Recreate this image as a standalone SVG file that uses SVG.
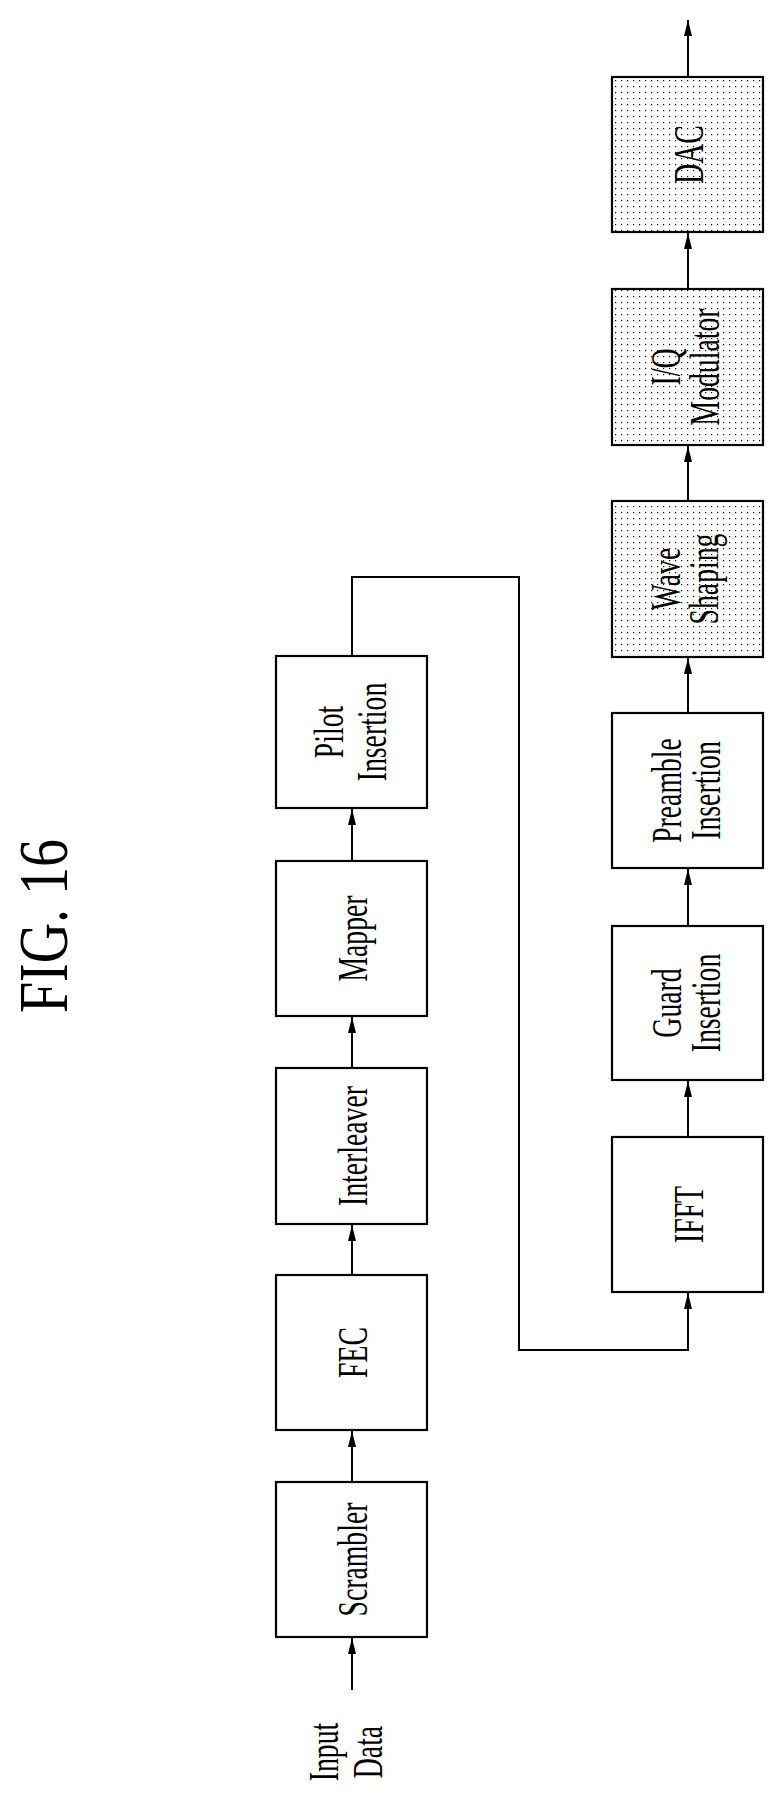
<svg xmlns="http://www.w3.org/2000/svg" width="783" height="1795" viewBox="0 0 783 1795">
<style>
.box{fill:#fff;stroke:#000;stroke-width:2.2}
.dot{fill:url(#dots);stroke:#000;stroke-width:2.2}
.lbl{font-family:"Liberation Serif","Times New Roman",serif;font-size:42px;fill:#000;text-anchor:middle}
.ln{fill:none;stroke:#000;stroke-width:2}
</style>
<defs>
<pattern id="dots" width="6" height="6" patternUnits="userSpaceOnUse" x="612" y="77">
<rect width="6" height="6" fill="#fff"/>
<rect x="3" y="3" width="1.2" height="1.2" fill="#000"/>
</pattern>
<marker id="ah" markerWidth="16" markerHeight="10" refX="16" refY="5" orient="auto" markerUnits="userSpaceOnUse">
<path d="M0,1 L16,5 L0,9 Z" fill="#000"/>
</marker>
</defs>
<rect width="783" height="1795" fill="#fff"/>
<g id="title"><text transform="translate(67,926) rotate(-90) scale(0.8,1)" style="font-family:'Liberation Serif',serif;font-size:70px;text-anchor:middle">FIG. 16</text></g>
<g id="input"><g transform="translate(0,1752) rotate(-90) scale(0.66,1)"><text class="lbl" x="0" y="338">Input</text><text class="lbl" x="0" y="382">Data</text></g></g>
<g id="scrambler"><rect class="box" x="276" y="1482" width="151" height="155"/><text class="lbl" transform="translate(351.5,1559.5) rotate(-90) scale(0.66,1)" y="15">Scrambler</text></g>
<g id="fec"><rect class="box" x="276" y="1275" width="151" height="155"/><text class="lbl" transform="translate(351.5,1352.5) rotate(-90) scale(0.66,1)" y="15">FEC</text></g>
<g id="interleaver"><rect class="box" x="276" y="1068" width="151" height="156"/><text class="lbl" transform="translate(351.5,1146) rotate(-90) scale(0.66,1)" y="15">Interleaver</text></g>
<g id="mapper"><rect class="box" x="276" y="861" width="151" height="155"/><text class="lbl" transform="translate(351.5,938.5) rotate(-90) scale(0.66,1)" y="15">Mapper</text></g>
<g id="pilot"><rect class="box" x="276" y="656" width="151" height="152"/><g transform="translate(351.5,732) rotate(-90) scale(0.66,1)"><text class="lbl" y="-9">Pilot</text><text class="lbl" y="34">Insertion</text></g></g>
<g id="ifft"><rect class="box" x="612" y="1137" width="151" height="155"/><text class="lbl" transform="translate(687.5,1214.5) rotate(-90) scale(0.66,1)" y="15">IFFT</text></g>
<g id="guard"><rect class="box" x="612" y="926" width="151" height="154"/><g transform="translate(687.5,1003) rotate(-90) scale(0.66,1)"><text class="lbl" y="-7">Guard</text><text class="lbl" y="32">Insertion</text></g></g>
<g id="preamble"><rect class="box" x="612" y="713" width="151" height="155"/><g transform="translate(687.5,790.5) rotate(-90) scale(0.66,1)"><text class="lbl" y="-7">Preamble</text><text class="lbl" y="32">Insertion</text></g></g>
<g id="wave"><rect class="dot" x="612" y="501" width="151" height="156"/><g transform="translate(687.5,579) rotate(-90) scale(0.66,1)"><text class="lbl" y="-8">Wave</text><text class="lbl" y="30">Shaping</text></g></g>
<g id="iq"><rect class="dot" x="612" y="289" width="151" height="156"/><g transform="translate(687.5,367) rotate(-90) scale(0.66,1)"><text class="lbl" y="-8">I/Q</text><text class="lbl" y="31">Modulator</text></g></g>
<g id="dac"><rect class="dot" x="612" y="77" width="151" height="155"/><text class="lbl" transform="translate(687.5,154.5) rotate(-90) scale(0.66,1)" y="15">DAC</text></g>
<g id="connectors">
<line class="ln" x1="352" y1="1690" x2="352" y2="1638" marker-end="url(#ah)"/>
<line class="ln" x1="352" y1="1482" x2="352" y2="1431" marker-end="url(#ah)"/>
<line class="ln" x1="352" y1="1275" x2="352" y2="1225" marker-end="url(#ah)"/>
<line class="ln" x1="352" y1="1068" x2="352" y2="1017" marker-end="url(#ah)"/>
<line class="ln" x1="352" y1="861" x2="352" y2="809" marker-end="url(#ah)"/>
<polyline class="ln" points="352,656 352,577 519,577 519,1350 688,1350 688,1293" marker-end="url(#ah)"/>
<line class="ln" x1="688" y1="1137" x2="688" y2="1081" marker-end="url(#ah)"/>
<line class="ln" x1="688" y1="926" x2="688" y2="869" marker-end="url(#ah)"/>
<line class="ln" x1="688" y1="713" x2="688" y2="658" marker-end="url(#ah)"/>
<line class="ln" x1="688" y1="501" x2="688" y2="446" marker-end="url(#ah)"/>
<line class="ln" x1="688" y1="289" x2="688" y2="233" marker-end="url(#ah)"/>
<line class="ln" x1="688" y1="77" x2="688" y2="20" marker-end="url(#ah)"/>
</g>
</svg>
